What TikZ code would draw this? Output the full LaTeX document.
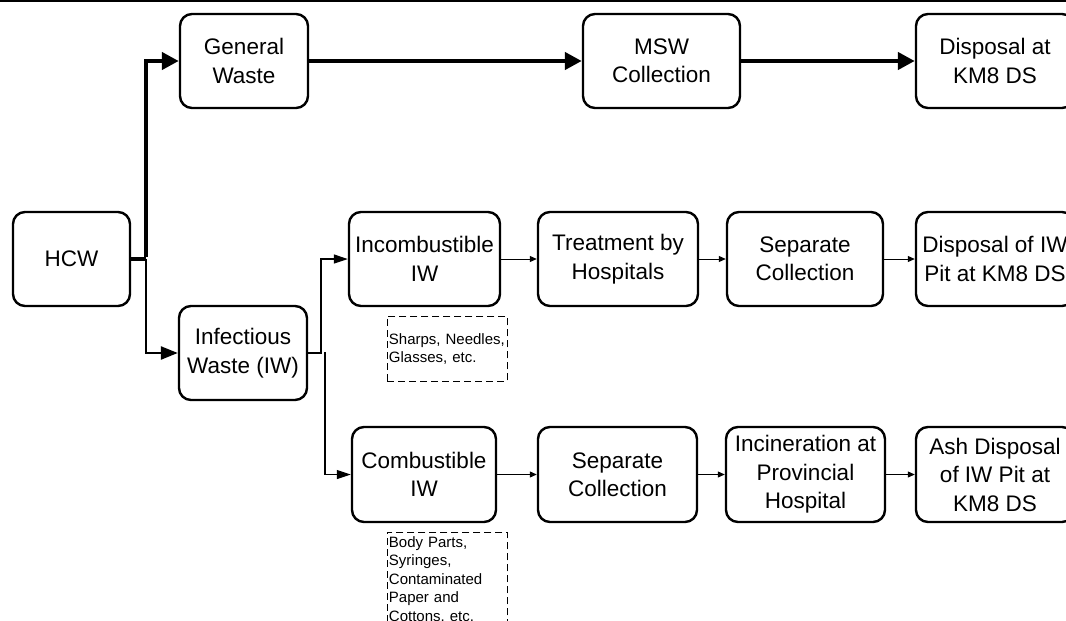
\documentclass[tikz,border=0pt]{standalone}
\usepackage{fontspec}
\setmainfont{Liberation Sans}
\usetikzlibrary{arrows.meta}
\tikzset{
  box/.style={draw, rounded corners=12pt, line width=2.4pt, minimum height=94pt,
    align=center, inner sep=0pt, font=\fontsize{22.5}{28.5}\selectfont},
  note/.style={draw, dash pattern=on 7pt off 4pt, line width=0.9pt, anchor=north west,
    align=left, inner xsep=1.5pt, inner ysep=0pt, text width=117pt,
    font=\fontsize{15}{18.5}\selectfont},
  bigarrow/.style={line width=4.8pt, -{Triangle[length=17pt,width=17pt]}},
  midarrow/.style={line width=2.4pt, -{Triangle[length=17pt,width=13pt]}},
  branch/.style={line width=1.1pt, -{Triangle[length=14pt,width=9pt]}},
  smallarrow/.style={line width=1pt, -{Triangle[length=7pt,width=6pt]}},
}
\begin{document}
\begin{tikzpicture}[x=1pt,y=-1pt]
\useasboundingbox (0,0) rectangle (1066,621);
\clip (0,0) rectangle (1066,621);
\draw[line width=2pt] (0,1) -- (1066,1);
% top row
\node[box, minimum width=128pt] (gw) at (244,61) {General\\Waste};
\node[box, minimum width=157pt] (msw) at (661.5,61) {MSW\\Collection};
\node[box, minimum width=158pt] (dkm) at (995,61) {Disposal at\\KM8 DS};
% HCW and infectious
\node[box, minimum width=117pt] (hcw) at (71.5,259) {HCW};
\node[box, minimum width=128pt] (iw) at (243,353) {Infectious\\Waste (IW)};
% middle row
\node[box, minimum width=151pt] (inc) at (424.5,259) {Incombustible\\IW};
\node[box, minimum width=160pt] (trt) at (618,259) {Treatment by\\Hospitals};
\node[box, minimum width=156pt] (sc1) at (805,259) {Separate\\Collection};
\node[box, minimum width=158pt] (dpit) at (995,259) {Disposal of IW\\Pit at KM8 DS};
% bottom row
\node[box, minimum width=144pt, minimum height=95pt] (cmb) at (424,474.5) {Combustible\\IW};
\node[box, minimum width=159pt, minimum height=95pt] (sc2) at (617.5,474.5) {Separate\\Collection};
\node[box, minimum width=159pt, minimum height=95pt] (inci) at (805.5,474.5) {Incineration at\\Provincial\\Hospital};
\node[box, minimum width=158pt, minimum height=95pt] (ash) at (995,474.5) {Ash Disposal\\of IW Pit at\\KM8 DS};
% notes
\node[note, minimum height=65pt] (n1) at (387,316) {Sharps, Needles,\\Glasses, etc.};
\node[note, minimum height=95pt] (n2) at (387,532) {Body Parts,\\Syringes,\\Contaminated\\Paper and\\Cottons, etc.};
% connectors
\draw[line width=4.8pt] (hcw.east) -- (146,259) coordinate (j);
\draw[bigarrow] ([yshift=2.4pt]j) |- (gw.west);
\draw[midarrow] (j) |- (iw.west);
\draw[bigarrow] (gw) -- (msw);
\draw[bigarrow] (msw) -- (dkm);
\draw[branch] (iw.east) -- (321,353) |- (inc.west);
\coordinate (cb) at (325,352);
\draw[branch] (cb) |- (cmb.west);
\draw[smallarrow] (inc) -- (trt);
\draw[smallarrow] (trt) -- (sc1);
\draw[smallarrow] (sc1) -- (dpit);
\draw[smallarrow] (cmb) -- (sc2);
\draw[smallarrow] (sc2) -- (inci);
\draw[smallarrow] (inci) -- (ash);
\end{tikzpicture}
\end{document}
